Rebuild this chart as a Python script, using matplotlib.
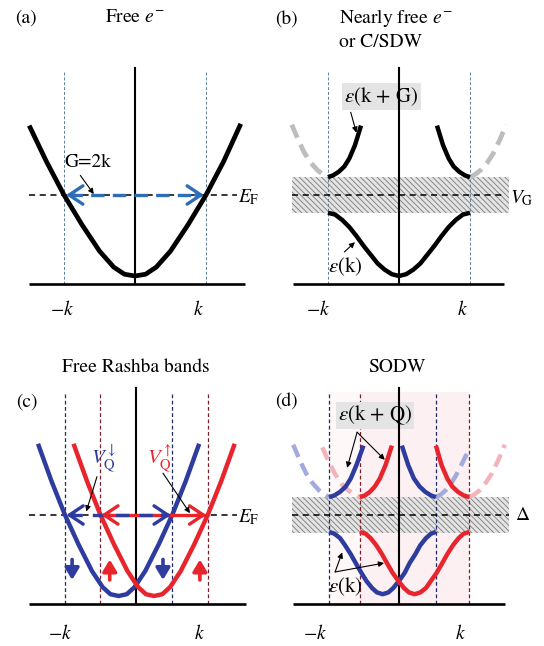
import matplotlib
matplotlib.use("Agg")
import matplotlib.pyplot as plt
from matplotlib.patches import Rectangle

plt.rcParams['font.family'] = ['STIXGeneral', 'DejaVu Serif']
plt.rcParams['mathtext.fontset'] = 'stix'
plt.rcParams['hatch.color'] = '#707070'
plt.rcParams['hatch.linewidth'] = 0.6

# ---------------- data (k in units of k_F, E in units of E_F) ----------------
# (a) free electron band
a_k = [-1.49, -1.25, -1.0, -0.75, -0.5, -0.3, -0.15, 0.0, 0.15, 0.3, 0.5, 0.75, 1.0, 1.25, 1.49]
a_E = [1.78, 1.38, 1.0, 0.67, 0.37, 0.19, 0.11, 0.09, 0.11, 0.19, 0.37, 0.67, 1.0, 1.38, 1.80]

# (b) nearly free electron / CDW
b_low_k = [-1.0, -0.9, -0.8, -0.7, -0.6, -0.5, -0.4, -0.3, -0.2, -0.1, 0.0,
           0.1, 0.2, 0.3, 0.4, 0.5, 0.6, 0.7, 0.8, 0.9, 1.0]
b_low_E = [0.80, 0.78, 0.72, 0.64, 0.54, 0.43, 0.33, 0.23, 0.16, 0.11, 0.09,
           0.11, 0.16, 0.23, 0.33, 0.43, 0.54, 0.64, 0.72, 0.78, 0.80]
b_upL_k = [-1.0, -0.93, -0.85, -0.77, -0.70, -0.62, -0.535]
b_upL_E = [1.20, 1.22, 1.26, 1.32, 1.41, 1.56, 1.78]
b_upR_k = [0.535, 0.62, 0.70, 0.77, 0.85, 0.93, 1.0]
b_upR_E = [1.78, 1.56, 1.41, 1.32, 1.26, 1.22, 1.20]
b_ghL_k = [-1.51, -1.42, -1.33, -1.24, -1.15, -1.07, -1.0]
b_ghL_E = [1.79, 1.62, 1.47, 1.36, 1.28, 1.23, 1.20]
b_ghR_k = [1.0, 1.07, 1.15, 1.24, 1.33, 1.42, 1.51]
b_ghR_E = [1.20, 1.23, 1.28, 1.36, 1.47, 1.62, 1.79]
gap_lo, gap_hi = 0.80, 1.20

# (c) free Rashba bands
c_blue_k = [-1.38, -1.19, -1.0, -0.81, -0.62, -0.47, -0.36, -0.245, -0.13, -0.02, 0.13, 0.32, 0.51, 0.70, 0.89]
c_red_k = [-0.88, -0.69, -0.50, -0.31, -0.12, 0.03, 0.14, 0.255, 0.37, 0.48, 0.63, 0.82, 1.01, 1.20, 1.39]
c_E = [1.80, 1.38, 1.0, 0.67, 0.37, 0.19, 0.11, 0.09, 0.11, 0.19, 0.37, 0.67, 1.0, 1.38, 1.80]
c_blue_kF = [-1.0, 0.51]
c_red_kF = [-0.51, 1.01]

# (d) spin-orbit density wave
d_blue_low_k = [-0.985, -0.91, -0.83, -0.76, -0.68, -0.61, -0.53, -0.46, -0.38, -0.31, -0.23,
                -0.15, -0.08, 0.0, 0.08, 0.15, 0.23, 0.30, 0.38, 0.45, 0.52]
d_red_low_k = [-0.55, -0.47, -0.40, -0.32, -0.24, -0.17, -0.09, -0.01, 0.07, 0.14, 0.22,
               0.30, 0.38, 0.45, 0.53, 0.61, 0.68, 0.76, 0.84, 0.91, 0.99]
d_low_E = [0.81, 0.79, 0.74, 0.66, 0.56, 0.46, 0.35, 0.26, 0.18, 0.13, 0.11,
           0.13, 0.18, 0.26, 0.35, 0.46, 0.56, 0.66, 0.74, 0.79, 0.81]
d_blue_upL_k = [-0.985, -0.91, -0.83, -0.75, -0.68, -0.60, -0.50]
d_red_upL_k = [-0.55, -0.48, -0.41, -0.34, -0.27, -0.19, -0.10]
d_upL_E = [1.20, 1.22, 1.26, 1.32, 1.41, 1.56, 1.78]
d_blue_upR_k = [0.04, 0.13, 0.21, 0.29, 0.37, 0.45, 0.52]
d_red_upR_k = [0.52, 0.60, 0.68, 0.75, 0.83, 0.91, 0.99]
d_upR_E = [1.78, 1.56, 1.41, 1.32, 1.26, 1.22, 1.20]
d_fblueL_k = [-1.49, -1.40, -1.31, -1.22, -1.13, -1.05, -0.985]
d_fblueL_E = [1.79, 1.62, 1.47, 1.36, 1.28, 1.23, 1.20]
d_fpinkL_k = [-1.08, -0.99, -0.90, -0.81, -0.72, -0.63, -0.55]
d_fpinkL_E = [1.76, 1.60, 1.46, 1.35, 1.28, 1.23, 1.20]
d_fblueR_k = [0.52, 0.59, 0.66, 0.73, 0.80, 0.87, 0.97]
d_fblueR_E = [1.20, 1.23, 1.28, 1.35, 1.44, 1.55, 1.71]
d_fpinkR_k = [0.99, 1.06, 1.14, 1.22, 1.31, 1.40, 1.49]
d_fpinkR_E = [1.20, 1.23, 1.28, 1.36, 1.47, 1.62, 1.79]

# ---------------- styles ----------------
W, H = 544, 646
KX, EY = 71.0, 89.0
XLIM = (-1.9, 1.9)
YLIM = (-0.45, 3.1)
BLUE = '#2d3c9e'
RED = '#e8242c'
NAVY = '#1f2a66'
DRED = '#7a1f2e'
FS = 14

fig = plt.figure(figsize=(W / 100, H / 100), dpi=100)


def panel(cx, base):
    left = (cx + XLIM[0] * KX) / W
    width = (XLIM[1] - XLIM[0]) * KX / W
    bottom = 1 - (base - YLIM[0] * EY) / H
    height = (YLIM[1] - YLIM[0]) * EY / H
    ax = fig.add_axes([left, bottom, width, height])
    ax.set_xlim(*XLIM)
    ax.set_ylim(*YLIM)
    ax.axis('off')
    ax.patch.set_visible(False)
    return ax


def frame(ax, x0, x1, top=2.43):
    ax.plot([x0, x1], [0, 0], color='k', lw=1.9, zorder=5, solid_capstyle='butt')
    ax.plot([0, 0], [0, top], color='k', lw=1.5, zorder=5)


def vline(ax, x, color, top=2.38, lw=0.8, dash=(3, 2)):
    ax.plot([x, x], [0, top], color=color, lw=lw, dashes=dash, zorder=2)


def ef_line(ax, x0, x1, y=1.0):
    ax.plot([x0, x1], [y, y], color='k', lw=1.1, dashes=(4, 3), zorder=4)


def thin_arrow(ax, start, tip):
    ax.annotate('', xy=tip, xytext=start,
                arrowprops=dict(arrowstyle='-|>', lw=0.8, color='k',
                                mutation_scale=8, shrinkA=0, shrinkB=0), zorder=8)


def head(ax, tip, frm, color):
    ax.annotate('', xy=tip, xytext=frm,
                arrowprops=dict(arrowstyle='->,head_length=0.45,head_width=0.3',
                                lw=2.4, color=color, mutation_scale=22,
                                shrinkA=0, shrinkB=0), zorder=7)


def gap_band(ax, x0, x1):
    ax.add_patch(Rectangle((x0, gap_lo), x1 - x0, gap_hi - gap_lo,
                           facecolor='#e4e4e4', edgecolor='#7a7a7a', linewidth=0,
                           hatch='\\\\\\\\\\\\', zorder=1))


# ================= (a) =================
ax = panel(135, 284)
frame(ax, -1.49, 1.55)
vline(ax, -1.0, '#5f7f99', lw=0.7)
vline(ax, 1.0, '#5f7f99', lw=0.7)
ef_line(ax, -1.49, 1.44)
ax.plot(a_k, a_E, color='k', lw=3.4, zorder=6, solid_joinstyle='round', solid_capstyle='butt')
ax.plot([-0.93, 0.93], [1.0, 1.0], color='#2f6db5', lw=2.4, dashes=(4, 2.5), zorder=7)
head(ax, (-0.97, 1.0), (-0.85, 1.0), '#2f6db5')
head(ax, (0.97, 1.0), (0.85, 1.0), '#2f6db5')
ax.text(-0.66, 1.37, 'G=2k', fontsize=FS, ha='center', va='center')
thin_arrow(ax, (-0.77, 1.22), (-0.58, 1.01))
ax.text(1.45, 0.98, r'$E_\mathrm{F}$', fontsize=FS, ha='left', va='center')
ax.text(-1.535, 2.99, '(a)', fontsize=FS, ha='center', va='center')
ax.text(0.0, 2.99, r'Free $e^{-}$', fontsize=FS, ha='center', va='center')
ax.text(-1.03, -0.29, r'$-k$', fontsize=FS, ha='center', va='center')
ax.text(0.90, -0.29, r'$k$', fontsize=FS, ha='center', va='center')

# ================= (b) =================
ax = panel(399, 284)
gap_band(ax, -1.51, 1.55)
frame(ax, -1.49, 1.48)
vline(ax, -1.0, '#5f7f99', lw=0.7)
vline(ax, 1.0, '#5f7f99', lw=0.7)
ef_line(ax, -1.51, 1.49)
for kk, ee in [(b_ghL_k, b_ghL_E), (b_ghR_k, b_ghR_E)]:
    ax.plot(kk, ee, color='#bdbdbd', lw=3.4, dashes=(3, 1.6), zorder=3)
for kk, ee in [(b_low_k, b_low_E), (b_upL_k, b_upL_E), (b_upR_k, b_upR_E)]:
    ax.plot(kk, ee, color='k', lw=3.2, zorder=6, solid_joinstyle='round', solid_capstyle='butt')
ax.text(-0.25, 2.11, r'$\varepsilon$(k + G)', fontsize=FS + 1, ha='center', va='center',
        bbox=dict(boxstyle='square,pad=0.1', facecolor='#e4e4e4', edgecolor='none'))
thin_arrow(ax, (-0.68, 1.93), (-0.60, 1.70))
ax.text(-0.76, 0.20, r'$\varepsilon$(k)', fontsize=FS + 1, ha='center', va='center')
thin_arrow(ax, (-0.77, 0.36), (-0.62, 0.47))
ax.text(1.57, 0.96, r'$V_\mathrm{G}$', fontsize=FS, ha='left', va='center')
ax.text(-1.59, 2.97, '(b)', fontsize=FS, ha='center', va='center')
ax.text(-0.845, 2.99, r'Nearly free $e^{-}$', fontsize=FS, ha='left', va='center')
ax.text(-0.845, 2.71, 'or C/SDW', fontsize=FS, ha='left', va='center')
ax.text(-1.14, -0.29, r'$-k$', fontsize=FS, ha='center', va='center')
ax.text(0.89, -0.29, r'$k$', fontsize=FS, ha='center', va='center')

# ================= (c) =================
ax = panel(136, 604)
frame(ax, -1.51, 1.55)
for x in c_blue_kF:
    vline(ax, x, NAVY, lw=0.9)
for x in c_red_kF:
    vline(ax, x, DRED, lw=0.9)
ef_line(ax, -1.51, 1.42)
ax.plot(c_blue_k, c_E, color=BLUE, lw=3.2, zorder=5, solid_joinstyle='round', solid_capstyle='butt')
ax.plot(c_red_k, c_E, color=RED, lw=3.2, zorder=6, solid_joinstyle='round', solid_capstyle='butt')
ax.plot([-0.47, 0.97], [1.0, 1.0], color=RED, lw=2.4, zorder=7)
ax.plot([-0.95, 0.47], [1.0, 1.0], color=BLUE, lw=2.4, dashes=(4, 3), zorder=7)
head(ax, (-0.98, 1.0), (-0.86, 1.0), BLUE)
head(ax, (0.49, 1.0), (0.37, 1.0), BLUE)
head(ax, (-0.49, 1.0), (-0.37, 1.0), RED)
head(ax, (0.99, 1.0), (0.87, 1.0), RED)
for x in [-0.90, 0.38]:
    ax.annotate('', xy=(x, 0.27), xytext=(x, 0.50),
                arrowprops=dict(arrowstyle='-|>,head_length=0.5,head_width=0.3', lw=2.6,
                                color=BLUE, mutation_scale=14, shrinkA=0, shrinkB=0), zorder=7)
for x in [-0.37, 0.90]:
    ax.annotate('', xy=(x, 0.50), xytext=(x, 0.27),
                arrowprops=dict(arrowstyle='-|>,head_length=0.5,head_width=0.3', lw=2.6,
                                color=RED, mutation_scale=14, shrinkA=0, shrinkB=0), zorder=7)
ax.text(-0.46, 1.64, r'$V_\mathrm{Q}^{\downarrow}$', fontsize=FS + 1, color=BLUE, ha='center', va='center')
ax.text(0.34, 1.64, r'$V_\mathrm{Q}^{\uparrow}$', fontsize=FS + 1, color=RED, ha='center', va='center')
thin_arrow(ax, (-0.55, 1.43), (-0.70, 1.04))
thin_arrow(ax, (0.38, 1.47), (0.76, 1.02))
ax.text(1.44, 0.98, r'$E_\mathrm{F}$', fontsize=FS, ha='left', va='center')
ax.text(-1.53, 2.27, '(c)', fontsize=FS, ha='center', va='center')
ax.text(-0.01, 2.66, 'Free Rashba bands', fontsize=FS, ha='center', va='center')
ax.text(-1.07, -0.33, r'$-k$', fontsize=FS, ha='center', va='center')
ax.text(0.89, -0.33, r'$k$', fontsize=FS, ha='center', va='center')

# ================= (d) =================
ax = panel(399, 604)
ax.add_patch(Rectangle((-0.985, 0), 0.435, 2.38, facecolor='#fef8f9', edgecolor='none', zorder=0))
ax.add_patch(Rectangle((-0.55, 0), 1.54, 2.38, facecolor='#fdf0f2', edgecolor='none', zorder=0))
gap_band(ax, -1.51, 1.55)
frame(ax, -1.49, 1.49)
for x in [-0.985, 0.52]:
    vline(ax, x, NAVY, lw=0.9)
for x in [-0.55, 0.99]:
    vline(ax, x, DRED, lw=0.9)
ef_line(ax, -1.51, 1.55)
for kk, ee, c in [(d_fblueL_k, d_fblueL_E, '#a4aadd'), (d_fpinkL_k, d_fpinkL_E, '#f3b3bb'),
                  (d_fblueR_k, d_fblueR_E, '#a4aadd'), (d_fpinkR_k, d_fpinkR_E, '#f3b3bb')]:
    ax.plot(kk, ee, color=c, lw=3.2, dashes=(3, 1.6), zorder=3)
for kk, ee, c in [(d_blue_low_k, d_low_E, BLUE), (d_red_low_k, d_low_E, RED),
                  (d_blue_upL_k, d_upL_E, BLUE), (d_red_upL_k, d_upL_E, RED),
                  (d_blue_upR_k, d_upR_E, BLUE), (d_red_upR_k, d_upR_E, RED)]:
    ax.plot(kk, ee, color=c, lw=3.2, zorder=6, solid_joinstyle='round', solid_capstyle='butt')
ax.text(-0.34, 2.12, r'$\varepsilon$(k + Q)', fontsize=FS + 1, ha='center', va='center',
        bbox=dict(boxstyle='square,pad=0.1', facecolor='#e4e4e4', edgecolor='none'))
thin_arrow(ax, (-0.59, 1.93), (-0.73, 1.53))
thin_arrow(ax, (-0.59, 1.93), (-0.20, 1.62))
ax.text(-0.76, 0.19, r'$\varepsilon$(k)', fontsize=FS + 1, ha='center', va='center')
thin_arrow(ax, (-0.90, 0.36), (-0.80, 0.58))
thin_arrow(ax, (-0.90, 0.36), (-0.21, 0.46))
ax.text(1.63, 0.99, r'$\Delta$', fontsize=FS, ha='left', va='center')
ax.text(-1.58, 2.27, '(d)', fontsize=FS, ha='center', va='center')
ax.text(-0.03, 2.66, 'SODW', fontsize=FS, ha='center', va='center')
ax.text(-1.18, -0.33, r'$-k$', fontsize=FS, ha='center', va='center')
ax.text(0.86, -0.33, r'$k$', fontsize=FS, ha='center', va='center')

fig.savefig('out.png', dpi=100, facecolor='white')
